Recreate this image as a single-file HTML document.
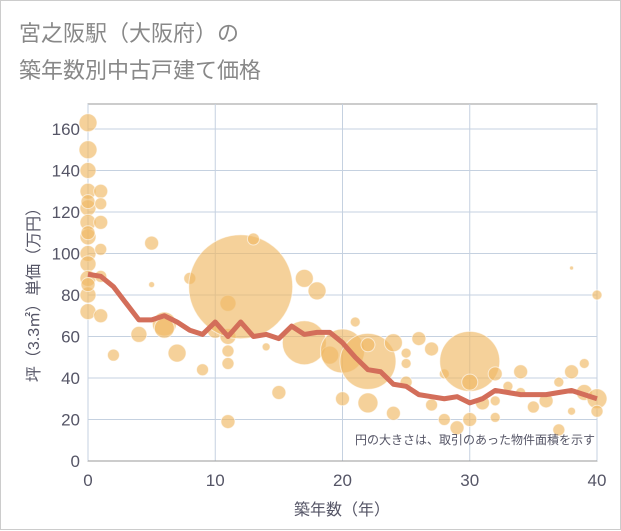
<!DOCTYPE html>
<html><head><meta charset="utf-8"><style>
body{margin:0;background:#fff;}
#wrap{position:relative;width:621px;height:530px;border:1px solid #ccc;box-sizing:border-box;background:#fff;font-family:"Liberation Sans","Noto Sans CJK JP",sans-serif;}
</style></head><body>
<div id="wrap">
<svg id="chart" width="621" height="530" style="position:absolute;left:0;top:0">
<text x="18" y="40" font-size="22" fill="#888" font-family="Liberation Sans,Noto Sans CJK JP,sans-serif">宮之阪駅（大阪府）の</text>
<text x="18" y="77" font-size="22" fill="#888" font-family="Liberation Sans,Noto Sans CJK JP,sans-serif">築年数別中古戸建て価格</text>
<g id="grid"></g><g id="bubbles"></g><g id="line"></g><g id="axes"></g>
<text x="594" y="443" font-size="12" fill="#556" text-anchor="end" font-family="Liberation Sans,Noto Sans CJK JP,sans-serif">円の大きさは、取引のあった物件面積を示す</text>
<text x="341" y="514" font-size="16" fill="#556" text-anchor="middle" font-family="Liberation Sans,Noto Sans CJK JP,sans-serif">築年数（年）</text>
<text transform="translate(38,290) rotate(-90)" font-size="16" fill="#556" text-anchor="middle" font-family="Liberation Sans,Noto Sans CJK JP,sans-serif">坪（3.3㎡）単価（万円）</text>
</svg>
</div>
<script>
const xTicks=[0,10,20,30,40];
const yTicks=[0,20,40,60,80,100,120,140,160];
const lineAges=[0,1,2,3,4,5,6,7,8,9,10,11,12,13,14,15,16,17,18,19,20,21,22,23,24,25,26,27,28,29,30,31,32,33,34,35,36,37,38,39,40];
const lineValues=[90,89,84,76,68,68,70,67,63,61,67,60,67,60,61,59,65,61,62,62,57,50,44,43,37,36,32,31,30,31,28,30,34,33,32,32,32,33,34,32,30];
const bubbleAges=[0,0,0,0,0,0,0,0,0,0,0,0,0,0,0,1,1,1,1,1,1,2,4,5,5,6,6,7,8,9,10,11,11,11,11,11,12,13,14,15,17,17,18,19,20,20,21,22,22,22,24,24,25,25,25,26,27,27,28,28,29,30,30,30,31,32,32,32,33,34,34,35,36,37,37,38,38,38,39,39,40,40,40];
const bubblePrices=[163,150,140,130,122,115,108,100,95,88,80,72,125,110,85,130,115,102,89,70,124,51,61,105,85,66,64,52,88,44,63,76,60,53,47,19,84,107,55,33,88,57,82,51,53,30,67,48,56,28,57,23,52,38,47,59,54,27,42,20,16,48,20,38,28,42,29,21,36,43,33,26,29,38,15,43,24,93,47,33,80,30,24];
const bubbleSizes=[9,9,8,8,8,8,8,8,8,8,8,8,7,7,7,7,7,6,6,7,6,6,8,7,3,12,10,9,6,6,8,8,8,6,6,7,52,6,4,7,9,22,9,9,22,7,5,28,7,10,9,7,5,6,5,7,7,6,5,6,7,30,7,8,7,7,5,5,5,7,5,6,7,5,6,7,4,2,5,8,5,10,6];
const X0=87,X1=596,Y0=460,Y1=128;
const xs=v=>X0+(v-0)/40*(X1-X0);
const ys=v=>Y0-(v/160)*(Y0-Y1);
const NS="http://www.w3.org/2000/svg";
function mk(t,a,p){const e=document.createElementNS(NS,t);for(const k in a)e.setAttribute(k,a[k]);p.appendChild(e);return e;}
const grid=document.getElementById('grid'),axes=document.getElementById('axes'),bub=document.getElementById('bubbles'),ln=document.getElementById('line');
const bg=mk('rect',{x:X0,y:103,width:X1-X0,height:Y0-103,fill:'#fff',stroke:'#999','stroke-width':1},grid);


yTicks.forEach(v=>{const g=mk('line',{x1:X0,x2:X1,y1:ys(v),y2:ys(v),stroke:'#c5d1e0','stroke-width':1},grid);


const t=mk('text',{x:X0-8,y:ys(v)+6,'font-size':17,fill:'#556','text-anchor':'end'},axes);t.textContent=v;

});
xTicks.forEach(v=>{const g=mk('line',{x1:xs(v),x2:xs(v),y1:103,y2:Y0,stroke:'#c5d1e0','stroke-width':1},grid);


const t=mk('text',{x:xs(v),y:Y0+25,'font-size':17,fill:'#556','text-anchor':'middle'},axes);t.textContent=v;

});
mk('line',{x1:X0,x2:X1,y1:Y0,y2:Y0,stroke:'#999'},axes);
bubbleAges.forEach((a,i)=>{const c=mk('circle',{cx:xs(a),cy:ys(bubblePrices[i]),r:bubbleSizes[i],fill:'rgba(240,185,100,0.65)',stroke:'rgba(255,255,255,0.6)','stroke-width':1},bub);

});
const p=mk('polyline',{points:lineAges.map((a,i)=>xs(a)+','+ys(lineValues[i])).join(' '),fill:'none',stroke:'#d36e5a','stroke-width':5,'stroke-linejoin':'round'},ln);


</script>
</body></html>
